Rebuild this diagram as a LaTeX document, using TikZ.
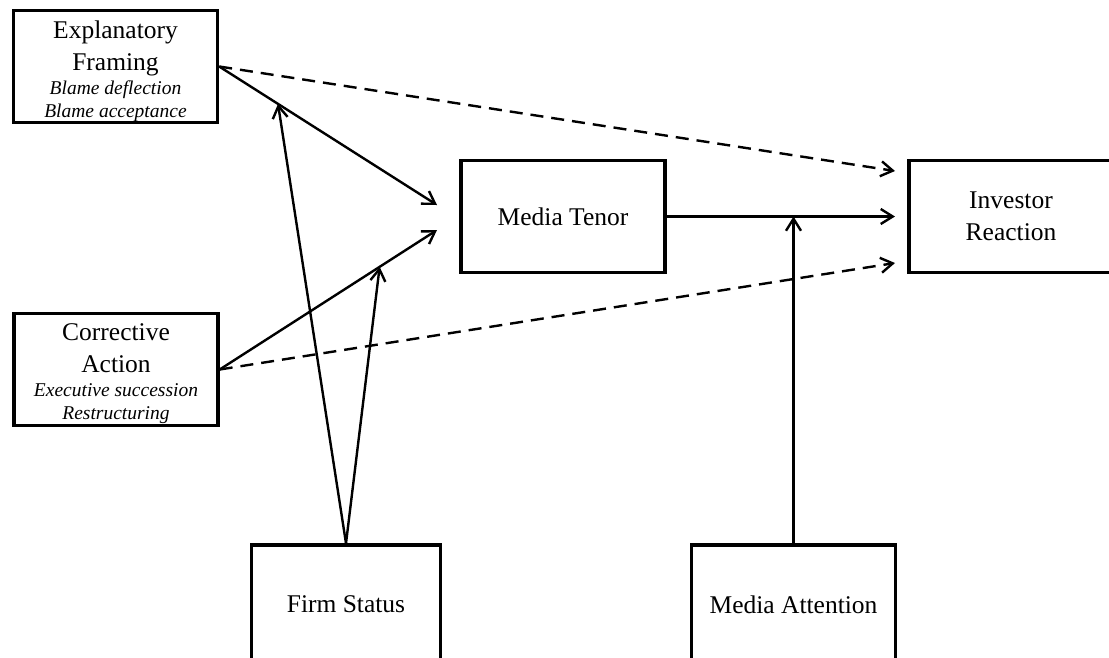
\documentclass[tikz,border=0pt]{standalone}
\usepackage{fontspec}
\setmainfont{Liberation Serif}
\usetikzlibrary{arrows.meta}
\begin{document}
\begin{tikzpicture}[x=1pt,y=-1pt,
  box/.style={draw,line width=3.4pt,rectangle,minimum width=204pt,minimum height=112pt,
    inner sep=0pt,align=center,font=\fontsize{25.5}{32}\selectfont},
  title/.style={anchor=base,inner sep=0pt,font=\fontsize{25.5}{32}\selectfont},
  sub/.style={anchor=base,inner sep=0pt,font=\fontsize{19.5}{23}\selectfont\itshape},
  link/.style={line width=2.4pt,-{Straight Barb[length=12pt,width=15pt]}},
  indirect/.style={link,dash pattern=on 13pt off 8pt}]
\useasboundingbox (0,0) rectangle (1109,657);
\clip (0,0) rectangle (1109,657);

% Explanatory framing
\node[box] (ef) at (115.5,66.5) {};
\node[title] (ef1) at (115.5,38) {Explanatory};
\node[title] (ef2) at (115.5,70) {Framing};
\node[sub] (ef3) at (115.5,94) {Blame deflection};
\node[sub] (ef4) at (115.5,117) {Blame acceptance};

% Corrective action
\node[box] (ca) at (116,369.5) {};
\node[title] (ca1) at (116,340) {Corrective};
\node[title] (ca2) at (116,372) {Action};
\node[sub] (ca3) at (116,396) {Executive succession};
\node[sub] (ca4) at (116,419) {Restructuring};

% Mediator, outcome and moderators
\node[box] (mt) at (563,216.5) {Media Tenor};
\node[box] (ir) at (1011,216.5) {Investor\\Reaction};
\node[box,minimum width=189pt,minimum height=119pt] (fs) at (346,604.5) {Firm Status};
\node[box,minimum height=119pt] (ma) at (793.5,604.5) {Media Attention};

% arrow end points
\coordinate (mtin1) at (437,205);
\coordinate (mtin2) at (437,230);
\coordinate (irin1) at (895,171);
\coordinate (irin2) at (895,263);

% direct effects
\draw[link] (ef.east) -- coordinate[pos=0.27] (fsto1) (mtin1);
\draw[link] (ca.east) -- coordinate[pos=0.736] (fsto2) (mtin2);
\draw[indirect] (ef.east) -- (irin1);
\draw[indirect] (ca.east) -- (irin2);
\draw[link] (mt.east) -- (mt.east -| irin1);

% moderation
\draw[link] (ma.north) -- (ma.north |- mt.east);
\draw[link] (fs.north) -- (fsto1);
\draw[link] (fs.north) -- (fsto2);
\end{tikzpicture}
\end{document}
